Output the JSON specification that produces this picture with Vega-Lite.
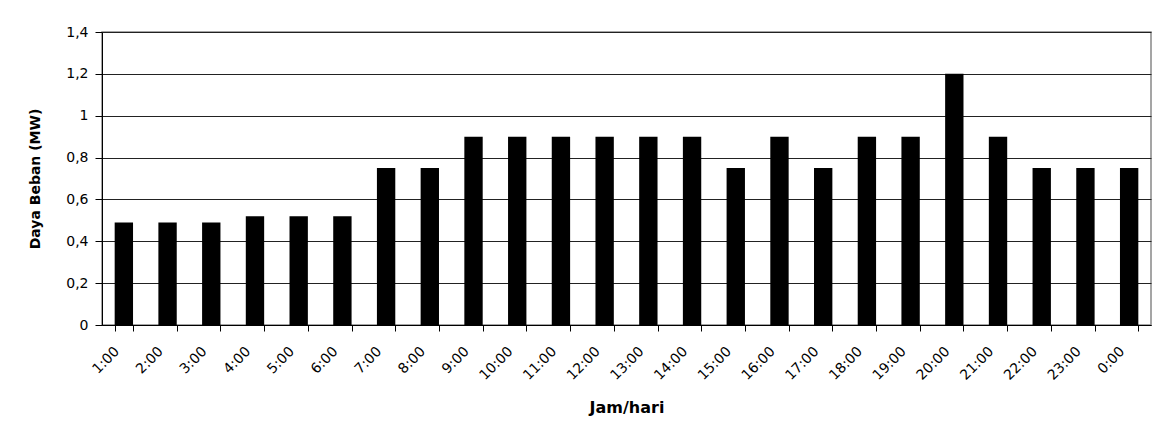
{
  "$schema": "https://vega.github.io/schema/vega-lite/v6.json",
  "width": 1049,
  "height": 293,
  "autosize": {"type": "none"},
  "padding": {"left": 102, "top": 32, "right": 10, "bottom": 110},
  "background": "white",
  "data": {
    "values": [
      {"jam": "1:00", "daya": 0.49},
      {"jam": "2:00", "daya": 0.49},
      {"jam": "3:00", "daya": 0.49},
      {"jam": "4:00", "daya": 0.52},
      {"jam": "5:00", "daya": 0.52},
      {"jam": "6:00", "daya": 0.52},
      {"jam": "7:00", "daya": 0.75},
      {"jam": "8:00", "daya": 0.75},
      {"jam": "9:00", "daya": 0.9},
      {"jam": "10:00", "daya": 0.9},
      {"jam": "11:00", "daya": 0.9},
      {"jam": "12:00", "daya": 0.9},
      {"jam": "13:00", "daya": 0.9},
      {"jam": "14:00", "daya": 0.9},
      {"jam": "15:00", "daya": 0.75},
      {"jam": "16:00", "daya": 0.9},
      {"jam": "17:00", "daya": 0.75},
      {"jam": "18:00", "daya": 0.9},
      {"jam": "19:00", "daya": 0.9},
      {"jam": "20:00", "daya": 1.2},
      {"jam": "21:00", "daya": 0.9},
      {"jam": "22:00", "daya": 0.75},
      {"jam": "23:00", "daya": 0.75},
      {"jam": "0:00", "daya": 0.75}
    ]
  },
  "mark": {"type": "bar", "color": "black"},
  "encoding": {
    "x": {
      "field": "jam",
      "type": "nominal",
      "sort": null,
      "scale": {"paddingInner": 0.58, "paddingOuter": 0.29},
      "axis": {
        "title": "Jam/hari",
        "titleFont": "DejaVu Sans",
        "titleFontSize": 16,
        "titleFontWeight": "bold",
        "titleColor": "black",
        "titleY": 82,
        "titleBaseline": "middle",
        "labelFont": "DejaVu Sans",
        "labelFontSize": 14,
        "labelColor": "black",
        "labelAngle": -45,
        "labelAlign": "right",
        "labelBaseline": "top",
        "labelOffset": -12,
        "labelPadding": 13,
        "tickBand": "extent",
        "tickSize": 6,
        "tickColor": "black",
        "domainColor": "black",
        "grid": false
      }
    },
    "y": {
      "field": "daya",
      "type": "quantitative",
      "scale": {"domain": [0, 1.4], "nice": false},
      "axis": {
        "title": "Daya Beban (MW)",
        "titleFont": "DejaVu Sans",
        "titleFontSize": 14,
        "titleFontWeight": "bold",
        "titleColor": "black",
        "titlePadding": 23,
        "labelFont": "DejaVu Sans",
        "labelFontSize": 14,
        "labelColor": "black",
        "labelPadding": 7,
        "labelExpr": "replace(format(datum.value, '~g'), '.', ',')",
        "values": [0, 0.2, 0.4, 0.6, 0.8, 1, 1.2, 1.4],
        "tickSize": 7,
        "tickColor": "black",
        "domainColor": "black",
        "grid": true,
        "gridColor": "#222",
        "gridOpacity": 1
      }
    }
  },
  "config": {
    "view": {"stroke": "#888", "strokeWidth": 1.5}
  }
}
